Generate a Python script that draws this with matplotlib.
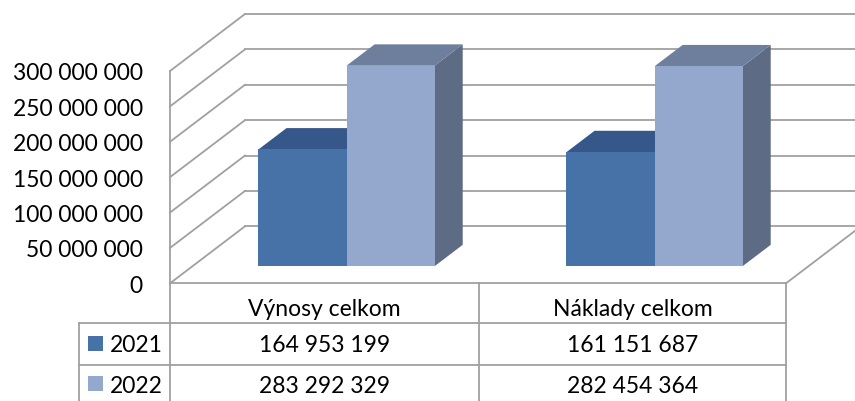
import matplotlib
matplotlib.use("Agg")
import matplotlib.pyplot as plt
import matplotlib.transforms as mtransforms
from matplotlib.patches import Polygon
from matplotlib.lines import Line2D

plt.rcParams["font.family"] = ["Lato", "DejaVu Sans"]

# data
categories = ["Výnosy celkom", "Náklady celkom"]
years = ["2021", "2022"]
values_2021 = [164953199, 161151687]
values_2022 = [283292329, 282454364]
y_ticks = [0, 50000000, 100000000, 150000000, 200000000, 250000000, 300000000]

front_cols = ["#4672a7", "#94a8ce"]
top_cols = ["#36578a", "#6e7f9d"]
side_cols = ["#34527a", "#5d6b84"]
grid_col = "#a0a0a0"


def fmt(v):
    return f"{v:,}".replace(",", " ")


W, H = 855, 401
fig = plt.figure(figsize=(W / 100, H / 100), dpi=100)

# chart axes = front plane of the 3d box (pixels -> fractions)
x_left, x_right, y_zero, y_top = 170, 786, 283.3, 71
ax = fig.add_axes([x_left / W, (H - y_zero) / H, (x_right - x_left) / W, (y_zero - y_top) / H])
ax.set_xlim(0, 2)
ax.set_ylim(0, 300000000)
ax.axis("off")

# oblique depth offset in data units
cat_px = (x_right - x_left) / 2
val_px = 300000000 / (y_zero - y_top)
ddx = 75 / cat_px
ddy = 57 * val_px

lw = 1.3
# walls: side diagonals + back gridlines
for v in y_ticks:
    ax.plot([0, ddx], [v, v + ddy], color=grid_col, lw=lw, clip_on=False, zorder=1)
    ax.plot([ddx, 2 + 2 * ddx], [v + ddy, v + ddy], color=grid_col, lw=lw, clip_on=False, zorder=1)
ax.plot([0, 0], [0, 300000000], color=grid_col, lw=lw, clip_on=False, zorder=1)
ax.plot([2, 2 + 2 * ddx], [0, 2 * ddy], color=grid_col, lw=lw, clip_on=False, zorder=1)

# y labels
off = mtransforms.ScaledTranslation(-27 / 100, -9.5 / 100, fig.dpi_scale_trans)
trans = mtransforms.blended_transform_factory(ax.transAxes, ax.transData) + off
for v in y_ticks:
    ax.text(0, v, fmt(v), transform=trans, ha="right", va="baseline", fontsize=16.5, color="#000000")

# bars
d0, d1 = 0.30, 0.675
bw = 0.286
series = [values_2021, values_2022]
z = 3
for i in range(len(categories)):
    for s in range(2):
        v = series[s][i]
        x0 = i + 0.5 - bw + s * bw
        x1 = x0 + bw
        fx0, fx1 = x0 + d0 * ddx, x1 + d0 * ddx
        fy0, fy1 = d0 * ddy, v + d0 * ddy
        bx0, bx1 = x0 + d1 * ddx, x1 + d1 * ddx
        by0, by1 = d1 * ddy, v + d1 * ddy
        side = Polygon([(fx1, fy0), (bx1, by0), (bx1, by1), (fx1, fy1)], closed=True,
                       facecolor=side_cols[s], edgecolor="none", clip_on=False, zorder=z)
        top = Polygon([(fx0, fy1), (fx1, fy1), (bx1, by1), (bx0, by1)], closed=True,
                      facecolor=top_cols[s], edgecolor="none", clip_on=False, zorder=z)
        front = Polygon([(fx0, fy0), (fx1, fy0), (fx1, fy1), (fx0, fy1)], closed=True,
                        facecolor=front_cols[s], edgecolor="none", clip_on=False, zorder=z + 0.5)
        ax.add_patch(side)
        ax.add_patch(top)
        ax.add_patch(front)
        z += 1

# data table in pixel coords
tax = fig.add_axes([0, 0, 1, 1], zorder=-1)
tax.set_xlim(0, W)
tax.set_ylim(H, 0)
tax.axis("off")
tbl_left, col_split = 79, 479
row1, row2 = 323.3, 365
tlines = [
    ([x_left, x_right], [y_zero, y_zero]),
    ([tbl_left, x_right], [row1, row1]),
    ([tbl_left, x_right], [row2, row2]),
    ([tbl_left, tbl_left], [row1, H + 5]),
    ([x_left, x_left], [y_zero, H + 5]),
    ([col_split, col_split], [y_zero, H + 5]),
    ([x_right, x_right], [y_zero, H + 5]),
]
for xs, ys in tlines:
    tax.add_line(Line2D(xs, ys, color=grid_col, lw=lw))

col_centers = [(x_left + col_split) / 2, (col_split + x_right) / 2]
for i, c in enumerate(categories):
    tax.text(col_centers[i], 315.5, c, ha="center", va="baseline", fontsize=16.5)
row_base = [352.3, 392.7]
for s in range(2):
    for i in range(len(categories)):
        tax.text(col_centers[i], row_base[s], fmt(series[s][i]), ha="center", va="baseline", fontsize=16.5)
    tax.add_patch(plt.Rectangle((88.3, row_base[s] - 16.3), 15, 15, facecolor=front_cols[s], edgecolor="none"))
    tax.text(110, row_base[s], years[s], ha="left", va="baseline", fontsize=16.5)

fig.savefig("out.png", dpi=100)
